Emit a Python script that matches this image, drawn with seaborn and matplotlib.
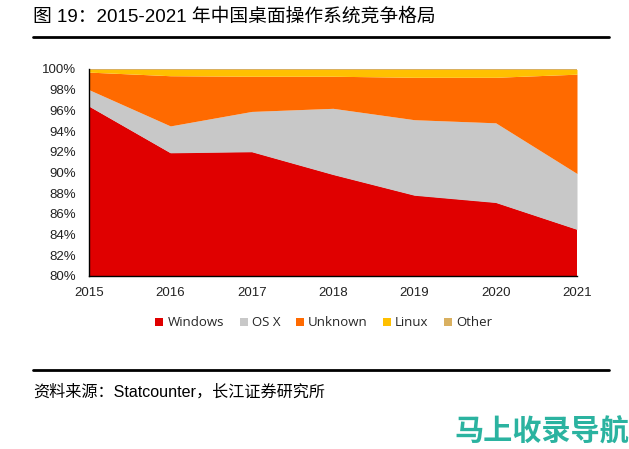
import numpy as np
import pandas as pd
import matplotlib
matplotlib.use('Agg')
import matplotlib.pyplot as plt
import seaborn as sns
from matplotlib.patches import Patch

years = [2015, 2016, 2017, 2018, 2019, 2020, 2021]
windows = [96.4, 91.9, 92.0, 89.8, 87.8, 87.1, 84.5]
osx = [1.6, 2.6, 3.9, 6.4, 7.3, 7.7, 5.4]
unknown = [1.7, 4.85, 3.4, 3.1, 4.1, 4.4, 9.6]
linux = [0.25, 0.6, 0.65, 0.65, 0.75, 0.75, 0.45]
other = [0.05, 0.05, 0.05, 0.05, 0.05, 0.05, 0.05]
series_names = ['Windows', 'OS X', 'Unknown', 'Linux', 'Other']
colors = ['#E00000', '#C8C8C8', '#FF6A00', '#FFC000', '#D9B060']

df = pd.DataFrame({'Windows': windows, 'OS X': osx, 'Unknown': unknown,
                   'Linux': linux, 'Other': other}, index=years)

sns.set_style('white')
plt.rcParams['font.family'] = ['Liberation Sans', 'Noto Sans CJK SC', 'DejaVu Sans']

fig = plt.figure(figsize=(6.29, 4.49), dpi=100)
ax = fig.add_axes([89 / 629, 1 - 276 / 449, (577 - 89) / 629, (276 - 69) / 449])

ax.stackplot(df.index, [df[c] for c in series_names], colors=colors, linewidth=0)

ax.set_xlim(2015, 2021)
ax.set_ylim(80, 100)
ax.set_xticks(years)
ax.set_yticks(np.arange(80, 101, 2))
ax.set_yticklabels([f'{v}%' for v in range(80, 101, 2)])
ax.tick_params(axis='both', labelsize=9.5, colors='#222222', length=0)
ax.tick_params(axis='y', pad=9)
ax.tick_params(axis='x', pad=8)
sns.despine(ax=ax, top=True, right=True)
for s in ['left', 'bottom']:
    ax.spines[s].set_color('black')
    ax.spines[s].set_linewidth(1)

handles = [Patch(facecolor=c, edgecolor='none') for c in colors]
fig.legend(handles, series_names, loc='center', bbox_to_anchor=(0.515, 1 - 323 / 449),
           ncol=5, frameon=False, handlelength=0.6, handleheight=0.6,
           handletextpad=0.3, columnspacing=1.2,
           prop={'family': ['Open Sans', 'Noto Sans CJK SC'], 'size': 9.5})

fig.text(33 / 629, 1 - 17 / 449, '图 19：2015-2021 年中国桌面操作系统竞争格局',
         fontsize=13.5, va='center', ha='left', color='black')
fig.add_artist(plt.Line2D([33 / 629, 609 / 629], [1 - 37 / 449, 1 - 37 / 449],
                          color='black', linewidth=2))
fig.add_artist(plt.Line2D([33 / 629, 609 / 629], [1 - 370 / 449, 1 - 370 / 449],
                          color='black', linewidth=2))
fig.text(33 / 629, 1 - 392 / 449, '资料来源：Statcounter，长江证券研究所',
         fontsize=11.6, va='center', ha='left', color='black')

fig.text(629 / 629, 1 - 432 / 449, '马上收录导航', fontsize=21, fontweight='bold',
         style='italic', color='#2BB3A0', ha='right', va='center',
         family=['Noto Sans CJK SC'])

fig.savefig('out.png', dpi=100)
